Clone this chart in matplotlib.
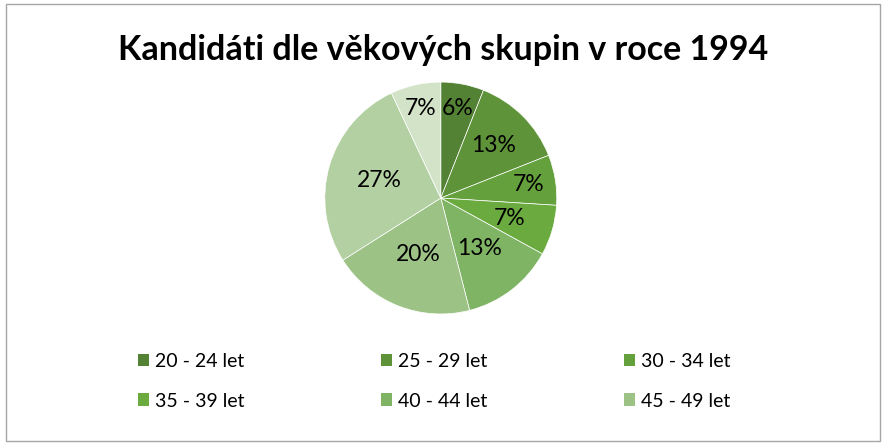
import numpy as np
import matplotlib
matplotlib.use('Agg')
import matplotlib.pyplot as plt
from matplotlib.patches import Patch, Rectangle

title = "Kandidáti dle věkových skupin v roce 1994"
groups = ["20 - 24 let", "25 - 29 let", "30 - 34 let", "35 - 39 let",
          "40 - 44 let", "45 - 49 let", "50 - 54 let", "55 - 59 let"]
shares = [6, 13, 7, 7, 13, 20, 27, 7]
colors = ["#548235", "#5e9339", "#64a03c", "#6aaa3f",
          "#7fb464", "#9cc285", "#b3d0a2", "#d2e3c8"]
# Excel places labels at different radii (best fit)
label_dist = [0.79, 0.64, 0.77, 0.62, 0.55, 0.52, 0.55, 0.79]

plt.rcParams['font.family'] = ['Lato', 'DejaVu Sans']

fig = plt.figure(figsize=(8.86, 4.46), dpi=100)
fig.patches.append(Rectangle((0.007, 0.012), 0.986, 0.978, transform=fig.transFigure,
                             fill=False, edgecolor='#a6a6a6', linewidth=1))

fig.text(0.5, 0.887, title, ha='center', va='center', fontsize=24.5, fontweight='bold')

ax = fig.add_axes([0.4975 - 0.131, 0.556 - 0.26, 0.262, 0.52])
wedges, _ = ax.pie(shares, colors=colors, startangle=90, counterclock=False,
                   wedgeprops=dict(edgecolor='white', linewidth=0.5))
for w, v, d in zip(wedges, shares, label_dist):
    ang = np.deg2rad((w.theta1 + w.theta2) / 2)
    ax.text(d * np.cos(ang), d * np.sin(ang), f"{v}%", ha='center', va='center', fontsize=16.5)
ax.set_aspect('equal')
ax.set_xlim(-1, 1)
ax.set_ylim(-1, 1)

# legend is filled row by row, first six entries only (as in the source)
order = [0, 3, 1, 4, 2, 5]
handles = [Patch(facecolor=colors[i], label=groups[i]) for i in order]
fig.legend(handles=handles, loc='center', bbox_to_anchor=(0.49, 0.145), ncol=3,
           frameon=False, fontsize=14, handlelength=0.6, handleheight=0.6,
           handletextpad=0.3, columnspacing=7.0, labelspacing=1.15)

fig.savefig('out.png', dpi=100)
